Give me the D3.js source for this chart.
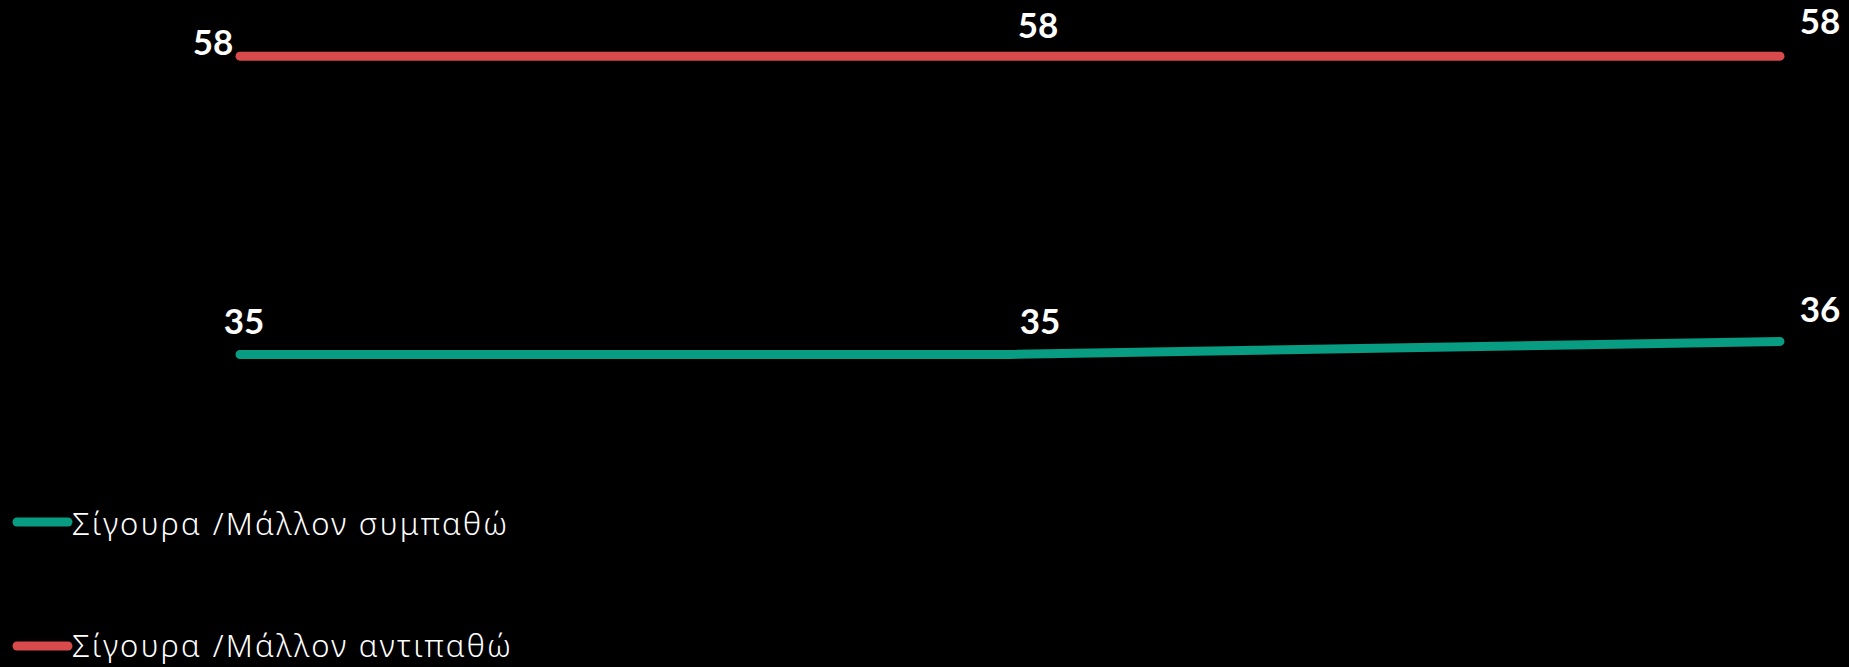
<!DOCTYPE html>
<html><head><meta charset="utf-8">
<script src="https://cdn.jsdelivr.net/npm/d3@7"></script>
<style>
html,body{margin:0;padding:0;background:#000;}
svg{display:block;}
</style></head>
<body>
<svg id="chart" width="1849" height="667"></svg>
<script>
const categories = ["A", "B", "C"];
const seriesNames = ["Σίγουρα /Μάλλον συμπαθώ", "Σίγουρα /Μάλλον αντιπαθώ"];
const likeValues = [35, 35, 36];
const dislikeValues = [58, 58, 58];
const colors = ["#089c83", "#d84a4c"];

// label offsets relative to each point (layout, not data)
const labelOffsets = [
  [[4, -20], [30, -20], [40, -19]],
  [[-27, -1], [28, -18], [40, -22]]
];

const svg = d3.select("#chart");
const x = d3.scalePoint().domain(categories).range([240, 1780]);
const y = d3.scaleLinear().domain([0, 60]).range([808.4, 30.2]);

const series = [likeValues, dislikeValues];
const line = d3.line().x((d, i) => x(categories[i])).y(d => y(d));

series.forEach((vals, s) => {
  svg.append("path")
    .attr("d", line(vals))
    .attr("fill", "none")
    .attr("stroke", colors[s])
    .attr("stroke-width", 9)
    .attr("stroke-linecap", "round")
    .attr("stroke-linejoin", "round");
  svg.selectAll(null).data(vals).enter().append("text")
    .attr("x", (d, i) => x(categories[i]) + labelOffsets[s][i][0])
    .attr("y", (d, i) => y(d) + labelOffsets[s][i][1])
    .attr("text-anchor", "middle")
    .attr("fill", "#fff")
    .attr("font-family", "Lato, 'Open Sans', sans-serif")
    .attr("font-weight", "bold")
    .attr("font-size", 35)
    .text(d => d);
});

// legend
const legendY = [522, 646];
seriesNames.forEach((name, s) => {
  const g = svg.append("g");
  g.append("line")
    .attr("x1", 17).attr("x2", 68)
    .attr("y1", legendY[s]).attr("y2", legendY[s])
    .attr("stroke", colors[s]).attr("stroke-width", 9)
    .attr("stroke-linecap", "round");
  g.append("text")
    .attr("x", 72).attr("y", legendY[s] + (s === 0 ? 13 : 11))
    .attr("fill", "#fff")
    .attr("font-family", "'Noto Sans', sans-serif")
    .attr("font-weight", 300)
    .attr("font-size", 31)
    .attr("letter-spacing", 2.3)
    .text(name);
});
</script>
</body></html>
